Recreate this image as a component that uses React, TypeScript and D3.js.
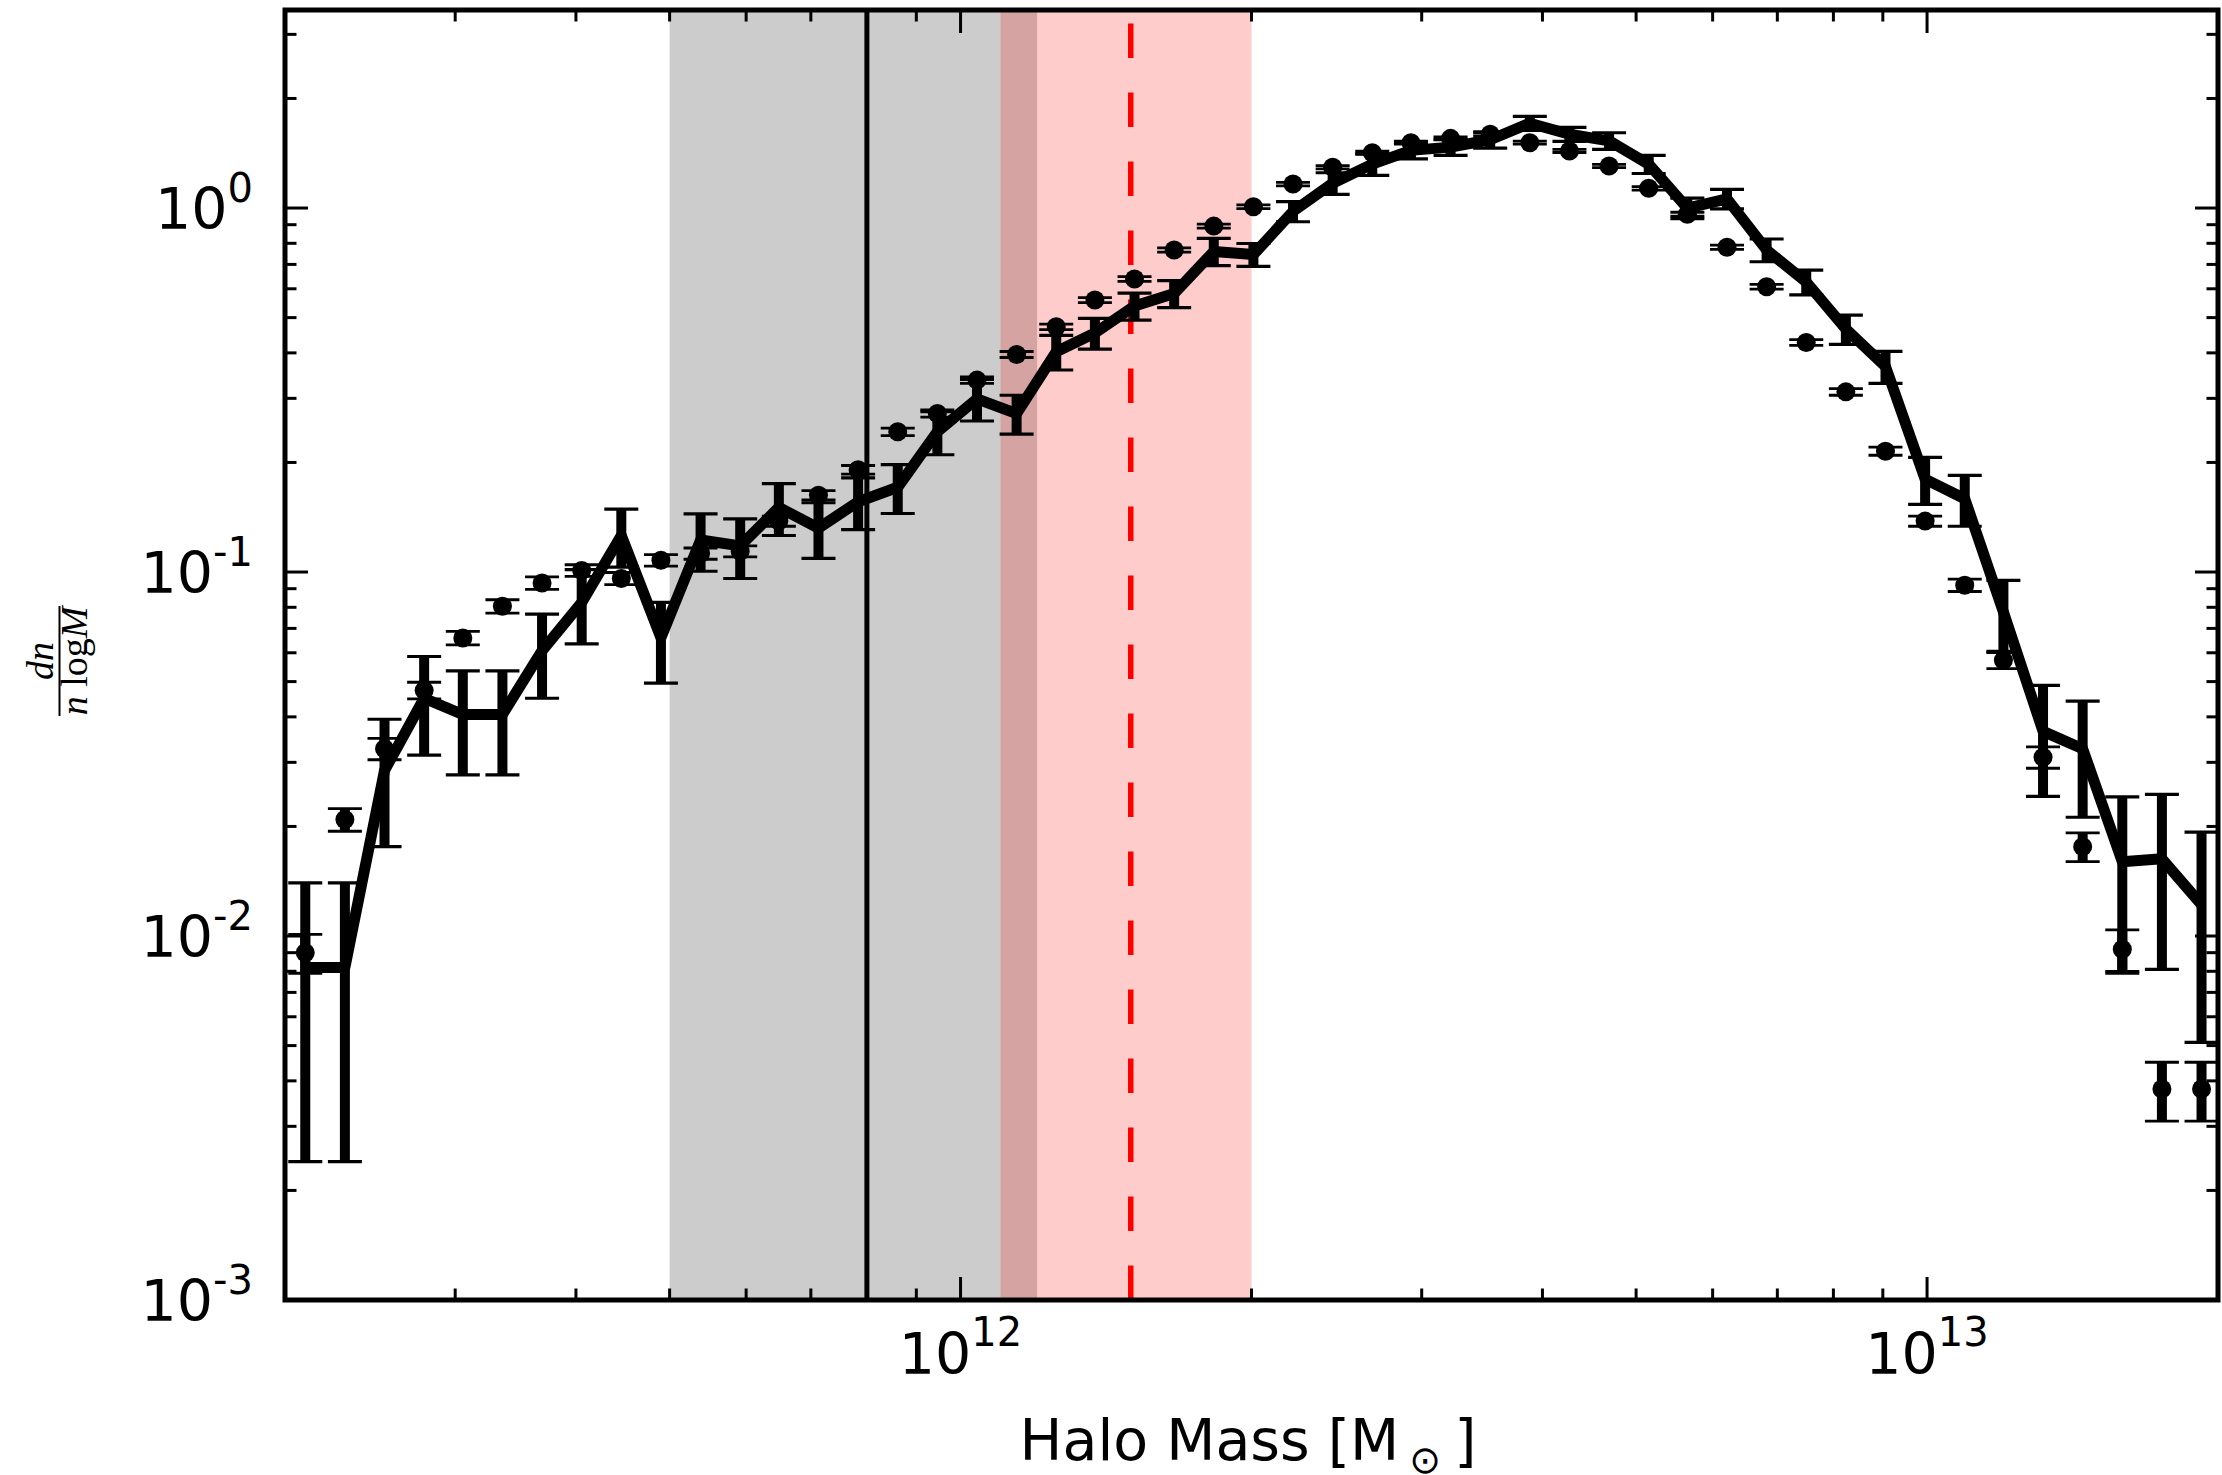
import React from 'react';
import * as d3 from 'd3';

// Bin centres, log10(M / Msun)
const logMass = [
  11.322, 11.363, 11.404, 11.445, 11.485, 11.526, 11.567, 11.608, 11.649, 11.69,
  11.731, 11.772, 11.812, 11.853, 11.894, 11.935, 11.976, 12.017, 12.058, 12.099,
  12.139, 12.18, 12.221, 12.262, 12.303, 12.344, 12.385, 12.426, 12.466, 12.507,
  12.548, 12.589, 12.63, 12.671, 12.712, 12.752, 12.793, 12.834, 12.875, 12.916,
  12.957, 12.998, 13.039, 13.079, 13.12, 13.161, 13.202, 13.243, 13.284,
];

// Thick line series: dn / (n dlogM) with its errors
const curveDn = [
  0.0082, 0.0082, 0.0285, 0.045, 0.0406, 0.0406, 0.0608, 0.0825, 0.126, 0.066,
  0.1225, 0.118, 0.1505, 0.132, 0.156, 0.171, 0.243, 0.299, 0.2726, 0.403,
  0.4535, 0.538, 0.582, 0.76, 0.745, 0.979, 1.17, 1.32, 1.44, 1.47,
  1.54, 1.71, 1.595, 1.53, 1.32, 1.0, 1.06, 0.767, 0.626, 0.465,
  0.367, 0.18, 0.159, 0.0777, 0.0365, 0.0327, 0.016, 0.0163, 0.0122,
];
const curveErr = [
  0.0058, 0.0058, 0.0109, 0.0136, 0.0129, 0.0129, 0.0158, 0.019, 0.0228, 0.0165,
  0.022, 0.022, 0.0245, 0.023, 0.0253, 0.0262, 0.033, 0.039, 0.0334, 0.044,
  0.044, 0.046, 0.0495, 0.065, 0.054, 0.062, 0.08, 0.09, 0.075, 0.075,
  0.08, 0.075, 0.07, 0.08, 0.076, 0.065, 0.065, 0.055, 0.049, 0.043,
  0.037, 0.0266, 0.0254, 0.0172, 0.0123, 0.0115, 0.0081, 0.0082, 0.0071,
];

// Point series: dn / (n dlogM) with its errors
const pointDn = [
  0.009, 0.0209, 0.0327, 0.0473, 0.0659, 0.0805, 0.0933, 0.101, 0.096, 0.1077,
  0.1124, 0.114, 0.138, 0.1626, 0.191, 0.2428, 0.2726, 0.3367, 0.396, 0.4717,
  0.5587, 0.638, 0.7668, 0.892, 1.008, 1.164, 1.294, 1.419, 1.512, 1.554,
  1.594, 1.512, 1.435, 1.304, 1.133, 0.962, 0.78, 0.608, 0.427, 0.3126,
  0.2148, 0.138, 0.092, 0.0572, 0.031, 0.0176, 0.0092, 0.0038, 0.0038,
];
const pointErr = [
  0.0011, 0.0015, 0.0022, 0.0025, 0.0028, 0.0034, 0.0037, 0.0037, 0.0037, 0.0039,
  0.004, 0.004, 0.0044, 0.0048, 0.0052, 0.0058, 0.0062, 0.0069, 0.0075, 0.0082,
  0.009, 0.0096, 0.0105, 0.0113, 0.0119, 0.0128, 0.0135, 0.0141, 0.0146, 0.0148,
  0.015, 0.0146, 0.0142, 0.0135, 0.0126, 0.0116, 0.0105, 0.0093, 0.0078, 0.0066,
  0.0055, 0.0044, 0.0036, 0.0029, 0.0021, 0.0016, 0.0012, 0.0007, 0.0007,
];

// Shaded mass ranges and reference masses
const grayBand = [5e11, 1.2e12];
const grayMass = 8e11;
const pinkBand = [1.1e12, 2e12];
const redMass = 1.5e12;

const xDomain = [2e11, 2e13];
const yDomain = [1e-3, 3.5];
const xMajorTicks = [1e12, 1e13];
const xMajorExps = ['12', '13'];
const yMajorTicks = [1e-3, 1e-2, 1e-1, 1];
const yMajorExps = ['-3', '-2', '-1', '0'];

const FONT = 'DejaVu Sans';

export default function App() {
  const W = 2222;
  const H = 1475;
  const left = 285;
  const right = 2218;
  const top = 10;
  const bottom = 1300;

  const x = d3.scaleLog().domain(xDomain).range([left, right]);
  const y = d3.scaleLog().domain(yDomain).range([bottom, top]);

  const masses = logMass.map((v) => Math.pow(10, v));

  const linePath = d3
    .line<number>()
    .x((_, i) => x(masses[i]))
    .y((d) => y(d))(curveDn) as string;

  const xMinor = x
    .ticks(30)
    .filter((t) => !xMajorTicks.some((m) => Math.abs(m - t) / m < 1e-6))
    .filter((t) => x(t) > left + 1 && x(t) < right - 1);
  const yMinor = y
    .ticks(40)
    .filter((t) => !yMajorTicks.some((m) => Math.abs(m - t) / m < 1e-6))
    .filter((t) => y(t) < bottom - 1 && y(t) > top + 1);

  const majLen = 23;
  const minLen = 11.5;
  const tickW = 3;
  const capHalf = 17;

  const errBars = (vals: number[], errs: number[], key: string, capW: number) =>
    vals.map((v, i) => {
      const cx = x(masses[i]);
      const y0 = y(Math.max(v - errs[i], 1e-6));
      const y1 = y(v + errs[i]);
      return (
        <g key={`${key}-${i}`}>
          <line x1={cx} x2={cx} y1={y0} y2={y1} stroke="#000" strokeWidth={10} />
          <line x1={cx - capHalf} x2={cx + capHalf} y1={y0} y2={y0} stroke="#000" strokeWidth={capW} />
          <line x1={cx - capHalf} x2={cx + capHalf} y1={y1} y2={y1} stroke="#000" strokeWidth={capW} />
        </g>
      );
    });

  return (
    <svg
      width={W}
      height={H}
      viewBox={`0 0 ${W} ${H}`}
      style={{ position: 'absolute', left: 0, top: 0, background: '#fff' }}
    >
      <defs>
        <clipPath id="plotArea">
          <rect x={left} y={top} width={right - left} height={bottom - top} />
        </clipPath>
      </defs>
      <rect x={0} y={0} width={W} height={H} fill="#fff" />

      <g clipPath="url(#plotArea)">
        <rect
          x={x(grayBand[0])}
          y={top}
          width={x(grayBand[1]) - x(grayBand[0])}
          height={bottom - top}
          fill="#000"
          fillOpacity={0.2}
        />
        <rect
          x={x(pinkBand[0])}
          y={top}
          width={x(pinkBand[1]) - x(pinkBand[0])}
          height={bottom - top}
          fill="#ff0000"
          fillOpacity={0.2}
        />
        <line x1={x(grayMass)} x2={x(grayMass)} y1={bottom} y2={top} stroke="#000" strokeWidth={5} />
        <line
          x1={x(redMass)}
          x2={x(redMass)}
          y1={bottom}
          y2={top}
          stroke="#ff0000"
          strokeWidth={5.5}
          strokeDasharray="34.5 34.5"
        />

        {errBars(curveDn, curveErr, 'c', 3.2)}
        <path d={linePath} fill="none" stroke="#000" strokeWidth={11} strokeLinejoin="round" />

        {errBars(pointDn, pointErr, 'p', 2.8)}
        {pointDn.map((v, i) => (
          <circle key={`pt-${i}`} cx={x(masses[i])} cy={y(v)} r={9.5} fill="#000" />
        ))}
      </g>

      {/* ticks, pointing inward on all four sides */}
      <g stroke="#000" strokeWidth={tickW}>
        {xMajorTicks.map((t) => (
          <g key={`xM-${t}`}>
            <line x1={x(t)} x2={x(t)} y1={bottom} y2={bottom - majLen} />
            <line x1={x(t)} x2={x(t)} y1={top} y2={top + majLen} />
          </g>
        ))}
        {xMinor.map((t) => (
          <g key={`xm-${t}`}>
            <line x1={x(t)} x2={x(t)} y1={bottom} y2={bottom - minLen} />
            <line x1={x(t)} x2={x(t)} y1={top} y2={top + minLen} />
          </g>
        ))}
        {yMajorTicks.map((t) => (
          <g key={`yM-${t}`}>
            <line x1={left} x2={left + majLen} y1={y(t)} y2={y(t)} />
            <line x1={right} x2={right - majLen} y1={y(t)} y2={y(t)} />
          </g>
        ))}
        {yMinor.map((t) => (
          <g key={`ym-${t}`}>
            <line x1={left} x2={left + minLen} y1={y(t)} y2={y(t)} />
            <line x1={right} x2={right - minLen} y1={y(t)} y2={y(t)} />
          </g>
        ))}
      </g>

      {/* axes frame */}
      <rect
        x={left}
        y={top}
        width={right - left}
        height={bottom - top}
        fill="none"
        stroke="#000"
        strokeWidth={5}
      />

      {/* y tick labels */}
      {yMajorTicks.map((t, i) => (
        <text
          key={`yl-${t}`}
          x={253}
          y={y(t) + 20.5}
          textAnchor="end"
          fontFamily={FONT}
          fontSize={57}
          fill="#000"
        >
          10
          <tspan dy={-27} fontSize={40}>
            {yMajorExps[i]}
          </tspan>
        </text>
      ))}

      {/* x tick labels */}
      {xMajorTicks.map((t, i) => (
        <text
          key={`xl-${t}`}
          x={x(t)}
          y={1374}
          textAnchor="middle"
          fontFamily={FONT}
          fontSize={57}
          fill="#000"
        >
          10
          <tspan dy={-28} fontSize={40}>
            {xMajorExps[i]}
          </tspan>
        </text>
      ))}

      {/* x axis label */}
      <text x={1248} y={1460} textAnchor="middle" fontFamily={FONT} fontSize={57} fill="#000">
        Halo Mass [M
        <tspan dx={10} dy={13} fontSize={38}>
          ⊙
        </tspan>
        <tspan dx={13} dy={-13}>
          ]
        </tspan>
      </text>

      {/* y axis label: dn / (n log M) */}
      <g transform="translate(59.5, 661) rotate(-90)" fontFamily="Liberation Serif" fontSize={38} fill="#000">
        <line x1={-55} x2={55} y1={0} y2={0} stroke="#000" strokeWidth={2} />
        <text x={0} y={-7} textAnchor="middle" fontStyle="italic">
          dn
        </text>
        <text x={0} y={27} textAnchor="middle">
          <tspan fontStyle="italic">n</tspan>
          <tspan> log</tspan>
          <tspan fontStyle="italic">M</tspan>
        </text>
      </g>
    </svg>
  );
}
